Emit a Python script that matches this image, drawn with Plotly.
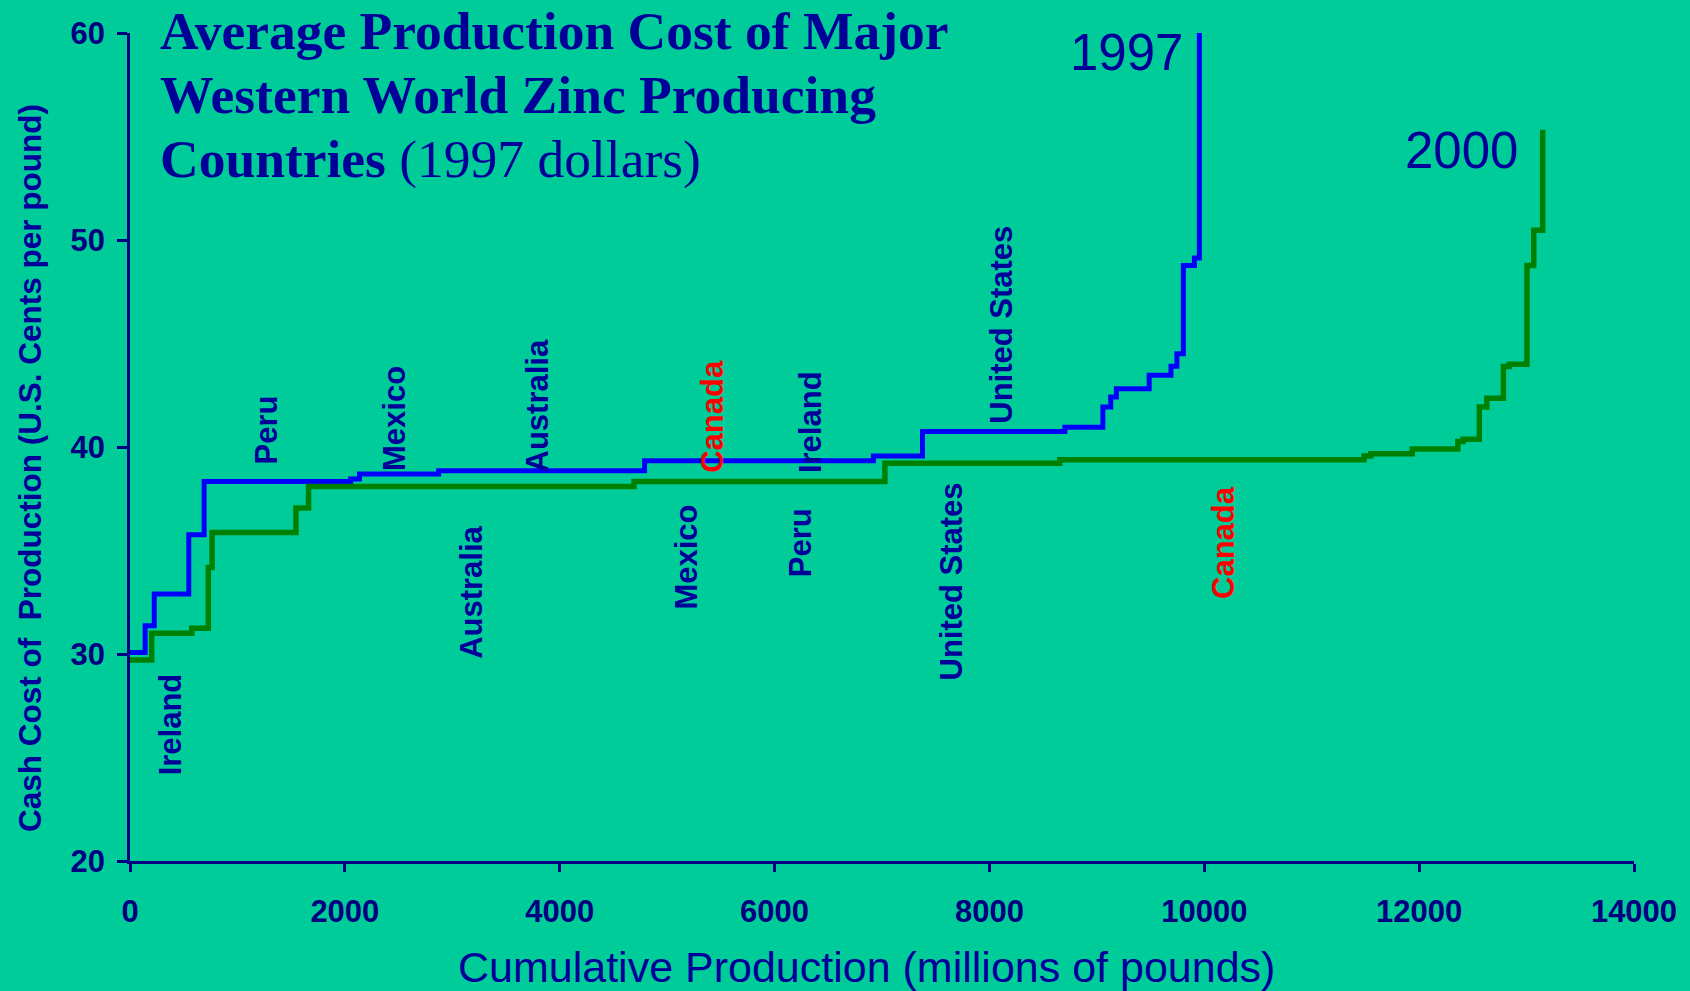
import plotly.graph_objects as go

# step curves: x = cumulative production where each cost level starts
x_1997 = [0, 141, 226, 547, 690, 2054, 2136, 2873, 4790, 6920, 7377, 8702,
          9056, 9129, 9182, 9487, 9690, 9745, 9805, 9908, 9954]
cost_1997 = [30.07, 31.36, 32.9, 35.76, 38.33, 38.46, 38.69, 38.85, 39.33, 39.57, 40.75, 40.96,
             41.93, 42.42, 42.82, 43.47, 43.9, 44.5, 48.77, 49.13, 60.0]

x_2000 = [0, 202, 575, 729, 764, 1545, 1662, 4692, 7027, 8655, 11488, 11550,
          11936, 12360, 12410, 12560, 12630, 12784, 12838, 13004, 13067, 13150]
cost_2000 = [29.71, 31.0, 31.24, 34.18, 35.87, 37.05, 38.09, 38.33, 39.22, 39.38, 39.57, 39.67,
             39.9, 40.27, 40.38, 41.93, 42.36, 43.89, 44.0, 48.77, 50.47, 55.33]

# country labels (1997 curve above, 2000 curve below)
labels_1997 = ["Peru", "Mexico", "Australia", "Canada", "Ireland", "United States"]
labels_1997_x = [1266, 2457, 3797, 5426, 6329, 8116]
labels_1997_y = [40.8, 41.4, 42.0, 41.5, 41.2, 45.9]

labels_2000 = ["Ireland", "Australia", "Mexico", "Peru", "United States", "Canada"]
labels_2000_x = [372, 3183, 5184, 6236, 7651, 10172]
labels_2000_y = [26.6, 33.0, 34.7, 35.4, 33.5, 35.4]

title_lines = ["<b>Average Production Cost of Major</b>",
               "<b>Western World Zinc Producing</b>",
               "<b>Countries</b> (1997 dollars)"]

NAVY = "#000099"
AXIS = "#000080"
BG = "#00CC99"

fig = go.Figure()
fig.add_trace(go.Scatter(x=x_1997, y=cost_1997, mode="lines", line_shape="hv",
                         line=dict(color="#0000FF", width=5), name="1997"))
fig.add_trace(go.Scatter(x=x_2000, y=cost_2000, mode="lines", line_shape="hv",
                         line=dict(color="#008000", width=5.5), name="2000"))

ann = []
for txt, x, y in zip(labels_1997 + labels_2000, labels_1997_x + labels_2000_x,
                     labels_1997_y + labels_2000_y):
    ann.append(dict(x=x, y=y, text=txt, showarrow=False, textangle=-90,
                    font=dict(family="Liberation Sans", size=31, weight="bold",
                              color="#FF0000" if txt == "Canada" else NAVY)))

ann.append(dict(x=9819, y=59.06, text="1997", showarrow=False, xanchor="right",
                font=dict(family="Liberation Sans", size=51, color=NAVY)))
ann.append(dict(x=12937, y=54.3, text="2000", showarrow=False, xanchor="right",
                font=dict(family="Liberation Sans", size=51, color=NAVY)))

for line, ypos in zip(title_lines, [1.0415, 0.9635, 0.886]):
    ann.append(dict(xref="paper", yref="paper", x=0.0186, y=ypos, xanchor="left",
                    yanchor="top", align="left", showarrow=False, text=line,
                    font=dict(family="Liberation Serif", size=53.5, color=NAVY)))

ann.append(dict(xref="paper", yref="paper", x=0.49, y=-0.1275, yanchor="middle",
                showarrow=False, text="Cumulative Production (millions of pounds)",
                font=dict(family="Liberation Sans", size=43, color=NAVY)))
ann.append(dict(xref="paper", yref="paper", x=-0.0665, y=0.4746, xanchor="center",
                yanchor="middle", showarrow=False, textangle=-90,
                text="Cash Cost of  Production (U.S. Cents per pound)",
                font=dict(family="Liberation Sans", size=31.5, weight="bold", color=NAVY)))

fig.update_layout(
    width=1690, height=991,
    margin=dict(l=130, r=56, t=33, b=130),
    paper_bgcolor=BG, plot_bgcolor=BG,
    showlegend=False,
    annotations=ann,
    xaxis=dict(range=[0, 14000], dtick=2000, tickformat="d", showgrid=False, zeroline=False,
               showline=True, linecolor=AXIS, linewidth=3,
               ticks="outside", ticklen=8, tickwidth=2.5, tickcolor=AXIS,
               ticklabelstandoff=13,
               tickfont=dict(family="Liberation Sans", size=31, weight="bold", color=AXIS)),
    yaxis=dict(range=[20, 60], dtick=10, showgrid=False, zeroline=False,
               showline=True, linecolor=AXIS, linewidth=2.5,
               ticks="outside", ticklen=10, tickwidth=2.5, tickcolor=AXIS,
               ticklabelstandoff=6,
               tickfont=dict(family="Liberation Sans", size=31, weight="bold", color=AXIS)),
)

fig.write_html("out.html", config={"displayModeBar": False},
               post_script="document.body.style.margin='0px';")
